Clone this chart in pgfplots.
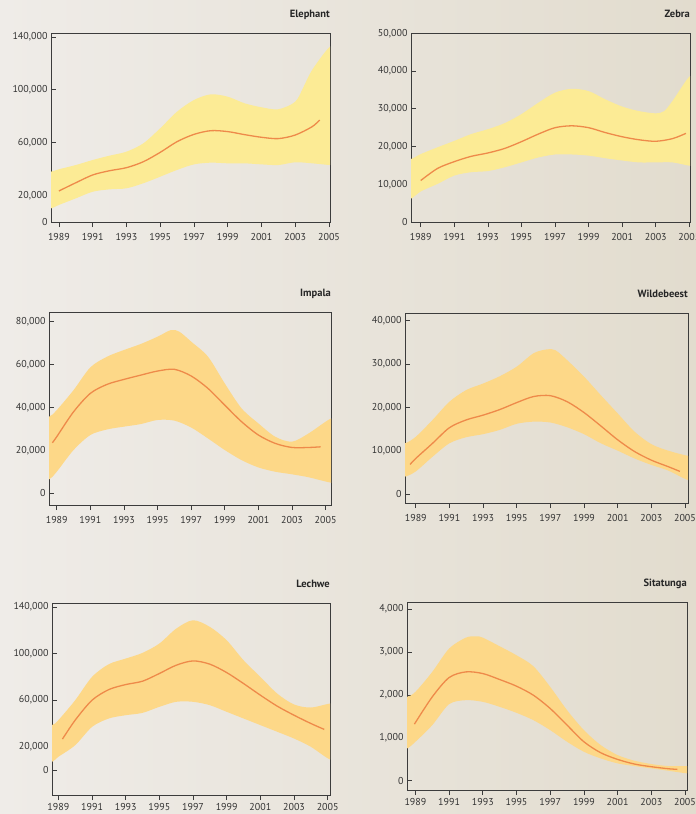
\documentclass[border=0pt]{standalone}
\usepackage{fontspec}
\setmainfont{PT Sans}
\usepackage{pgfplots}
\pgfplotsset{compat=1.18}
\definecolor{bgL}{HTML}{EFECE8}
\definecolor{bgR}{HTML}{E2DCCE}
\definecolor{bandY}{HTML}{FCEB95}
\definecolor{bandO}{HTML}{FDD888}
\definecolor{lineC}{HTML}{EE8A4A}
\definecolor{axisc}{HTML}{3C3C3C}
\definecolor{labc}{HTML}{333333}
\definecolor{titc}{HTML}{262626}
\pgfplotsset{
  panel/.style={
    scale only axis, anchor=north west,
    axis line style={draw=axisc, line width=0.7pt},
    major tick style={draw=axisc, line width=0.7pt},
    major tick length=5bp, tick align=inside,
    xtick={1989,1991,...,2005}, xtick pos=left, ytick pos=left,
    xticklabels={1989,1991,1993,1995,1997,1999,2001,2003,2005},
    x tick style={yshift=-5bp},
    scaled y ticks=false, scaled x ticks=false,
    x tick label style={font=\fontsize{10bp}{12bp}\selectfont, text=labc, yshift=-8bp},
    y tick label style={font=\fontsize{10bp}{12bp}\selectfont, text=labc},
    title style={at={(1,1)}, anchor=base east, yshift=10bp, inner sep=0pt, font=\bfseries\fontsize{10.5bp}{12bp}\selectfont, text=titc},
  },
  envY/.style={draw=none, fill=bandY, smooth},
  envO/.style={draw=none, fill=bandO, smooth},
  midline/.style={lineC, line width=1.3pt, smooth},
}
\begin{document}
\begin{tikzpicture}
\useasboundingbox (0,0) rectangle (696bp,-814bp);
\fill[left color=bgL, right color=bgR] (0,0) rectangle (696bp,-814bp);

% Elephant
\begin{axis}[panel, at={(51bp,-33bp)}, width=279bp, height=189bp,
  xmin=1988.53, xmax=2005.06, ymin=0, ymax=143000,
  ytick={0,20000,60000,100000,140000},
  yticklabels={0,{20,000},{60,000},{100,000},{140,000}}, title={Elephant}]
\addplot[envY] coordinates {(1987.9,38100)(1988.53,38100)(1989,39900)(1990,43100)(1991,46900)(1992,50200)(1993,53200)(1994,59500)(1995,70900)(1996,83500)(1997,92300)(1998,96600)(1999,94800)(2000,89800)(2001,86800)(2002,85300)(2003,91000)(2003.5,102400)(2004,115000)(2005.06,132700)(2005.7,132700)
 (2005.7,43100)(2005.06,43100)(2004,44400)(2003,45200)(2002,43100)(2001,43600)(2000,44400)(1999,44400)(1998,44900)(1997,43600)(1996,39400)(1995,34300)(1994,29300)(1993,25500)(1992,24700)(1991,22900)(1990,17900)(1989,12900)(1988.53,10300)(1987.9,10300)} -- cycle;
\addplot[midline] coordinates {(1989,23500)(1990,29700)(1991,35600)(1992,38800)(1993,41100)(1994,45600)(1995,52700)(1996,60800)(1997,66300)(1998,69100)(1999,68400)(2000,66100)(2001,64100)(2002,63100)(2003,65800)(2004,72100)(2004.45,77200)};
\end{axis}

% Zebra
\begin{axis}[panel, at={(411bp,-33bp)}, width=279bp, height=189bp,
  xmin=1988.42, xmax=2005.04, ymin=0, ymax=50100,
  ytick={0,10000,20000,30000,40000,50000},
  yticklabels={0,{10,000},{20,000},{30,000},{40,000},{50,000}}, title={Zebra}]
\addplot[envY] coordinates {(1987.8,16700)(1988.42,16700)(1989,18000)(1990,19800)(1991,21500)(1992,23300)(1993,24600)(1994,26200)(1995,28600)(1996,31600)(1997,34300)(1998,35300)(1999,34700)(2000,32500)(2001,30600)(2002,29400)(2003,28800)(2003.5,29400)(2004,32100)(2005.04,38700)(2005.7,38700)
 (2005.7,14900)(2005.04,14900)(2004,15800)(2003,15800)(2002,15800)(2001,16300)(2000,16900)(1999,17600)(1998,17900)(1997,17900)(1996,17100)(1995,15800)(1994,14500)(1993,13500)(1992,13200)(1991,12300)(1990,10100)(1989,8100)(1988.42,6200)(1987.8,6200)} -- cycle;
\addplot[midline] coordinates {(1989,11000)(1990,14200)(1991,16000)(1992,17400)(1993,18300)(1994,19500)(1995,21300)(1996,23300)(1997,25000)(1998,25500)(1999,25000)(2000,23700)(2001,22600)(2002,21800)(2003,21400)(2004,22100)(2004.8,23500)};
\end{axis}

% Impala
\begin{axis}[panel, at={(49bp,-312bp)}, width=282bp, height=193bp,
  xmin=1988.54, xmax=2005.32, ymin=-5400, ymax=84500,
  ytick={0,20000,40000,60000,80000},
  yticklabels={0,{20,000},{40,000},{60,000},{80,000}}, title={Impala}]
\addplot[envO] coordinates {(1987.9,35700)(1988.54,35700)(1989,38800)(1990,48100)(1991,58700)(1992,63700)(1993,66800)(1994,69600)(1995,73000)(1995.8,76100)(1996.3,75300)(1997,70700)(1998,63700)(1999,51200)(2000,39600)(2001,32600)(2002,26400)(2003,24100)(2004,28000)(2005.32,34900)(2006,34900)
 (2006,5000)(2005.32,5000)(2004,7500)(2003,8900)(2002,10100)(2001,12100)(2000,15500)(1999,20200)(1998,25600)(1997,30700)(1996,33900)(1995,34200)(1994,32300)(1993,31100)(1992,29800)(1991,27200)(1990,20200)(1989,10100)(1988.54,6500)(1987.9,6500)} -- cycle;
\addplot[midline] coordinates {(1988.74,23600)(1989,26400)(1990,38000)(1991,46600)(1992,50800)(1993,53100)(1994,55100)(1995,57000)(1996,57800)(1997,54700)(1998,48900)(1999,41100)(2000,33400)(2001,27200)(2002,23300)(2003,21400)(2004,21400)(2004.7,21700)};
\end{axis}

% Wildebeest
\begin{axis}[panel, at={(405bp,-313bp)}, width=283bp, height=190bp,
  xmin=1988.36, xmax=2005.18, ymin=-2100, ymax=41800,
  ytick={0,10000,20000,30000,40000},
  yticklabels={0,{10,000},{20,000},{30,000},{40,000}}, title={Wildebeest}]
\addplot[envO] coordinates {(1987.7,11700)(1988.36,11700)(1989,13200)(1990,17100)(1991,21300)(1992,24000)(1993,25500)(1994,27200)(1995,29400)(1996,32500)(1996.8,33400)(1997.3,33200)(1998,30900)(1999,27100)(2000,22800)(2001,18600)(2002,14400)(2003,11500)(2004,10000)(2005.18,8800)(2005.8,8800)
 (2005.8,3200)(2005.18,3200)(2004,5400)(2003,6700)(2002,8200)(2001,10000)(2000,11700)(1999,13800)(1998,15400)(1997,16500)(1996,16700)(1995,16200)(1994,14800)(1993,13800)(1992,13100)(1991,11700)(1990,8600)(1989,5200)(1988.36,4000)(1987.7,4000)} -- cycle;
\addplot[midline] coordinates {(1988.66,6800)(1989,8200)(1990,11700)(1991,15300)(1992,17100)(1993,18200)(1994,19500)(1995,21100)(1996,22500)(1997,22700)(1998,21300)(1999,18800)(2000,15700)(2001,12500)(2002,9800)(2003,7800)(2004,6300)(2004.7,5200)};
\end{axis}

% Lechwe
\begin{axis}[panel, at={(52bp,-603bp)}, width=278bp, height=192bp,
  xmin=1988.62, xmax=2005.14, ymin=-21400, ymax=143400,
  x tick label style={yshift=3.5bp},
  ytick={0,20000,60000,100000,140000},
  yticklabels={0,{20,000},{60,000},{100,000},{140,000}}, title={Lechwe}]
\addplot[envO] coordinates {(1988,38600)(1988.62,38600)(1989,42900)(1990,60000)(1991,80000)(1992,90900)(1993,95700)(1994,100600)(1995,108600)(1996,121400)(1997,128600)(1998,122900)(1999,111400)(2000,94300)(2001,80000)(2002,65700)(2003,56300)(2004,53700)(2005.14,57100)(2005.8,57100)
 (2005.8,9100)(2005.14,9100)(2004,20000)(2003,27100)(2002,32900)(2001,38600)(2000,44300)(1999,50000)(1998,55700)(1997,58600)(1996,58600)(1995,54300)(1994,49100)(1993,47100)(1992,44300)(1991,37100)(1990,21400)(1989,11400)(1988.62,7100)(1988,7100)} -- cycle;
\addplot[midline] coordinates {(1989.24,26600)(1990,42900)(1991,60000)(1992,69100)(1993,73400)(1994,76300)(1995,82900)(1996,90000)(1997,93700)(1998,90900)(1999,83700)(2000,74300)(2001,64300)(2002,54900)(2003,47100)(2004,40000)(2004.8,34900)};
\end{axis}

% Sitatunga
\begin{axis}[panel, at={(407bp,-602bp)}, width=280bp, height=188bp,
  xmin=1988.5, xmax=2005.12, ymin=-217, ymax=4163,
  x tick label style={yshift=3bp},
  ytick={0,1000,2000,3000,4000},
  yticklabels={0,{1,000},{2,000},{3,000},{4,000}}, title={Sitatunga}]
\addplot[envO] coordinates {(1987.9,1953)(1988.5,1953)(1989,2070)(1990,2535)(1991,3078)(1992,3333)(1992.6,3364)(1993,3333)(1994,3132)(1995,2922)(1996,2667)(1997,2186)(1998,1643)(1999,1178)(2000,829)(2001,597)(2002,465)(2003,388)(2004,341)(2005.12,341)(2005.8,341)
 (2005.8,171)(2005.12,171)(2004,233)(2003,287)(2002,341)(2001,403)(2000,519)(1999,674)(1998,907)(1997,1178)(1996,1411)(1995,1581)(1994,1721)(1993,1837)(1992,1876)(1991,1783)(1990,1295)(1989,907)(1988.5,752)(1987.9,752)} -- cycle;
\addplot[midline] coordinates {(1988.94,1318)(1990,1953)(1991,2403)(1992,2535)(1993,2496)(1994,2357)(1995,2202)(1996,1992)(1997,1682)(1998,1295)(1999,907)(2000,651)(2001,496)(2002,388)(2003,326)(2004,279)(2004.55,264)};
\end{axis}
\end{tikzpicture}
\end{document}
